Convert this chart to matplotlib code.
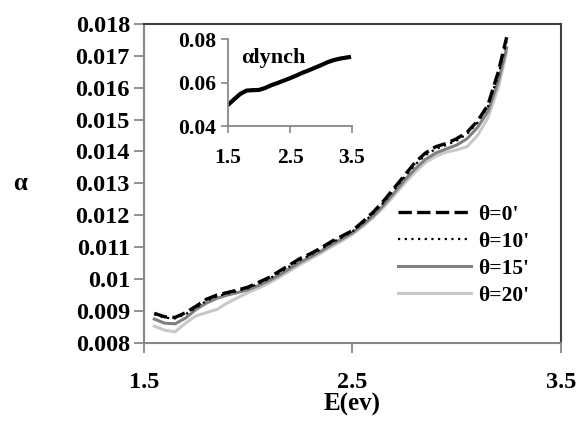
import numpy as np
import matplotlib
matplotlib.use("Agg")
import matplotlib.pyplot as plt

# --- data ---
energy = [1.55, 1.60, 1.65, 1.70, 1.75, 1.80, 1.85, 1.90, 1.95, 2.00,
          2.05, 2.10, 2.15, 2.20, 2.25, 2.30, 2.35, 2.40, 2.45, 2.50,
          2.55, 2.60, 2.65, 2.70, 2.75, 2.80, 2.85, 2.90, 2.95, 3.00,
          3.05, 3.10, 3.15, 3.20, 3.24]

alpha_0 = [0.00893, 0.00882, 0.00880, 0.00895, 0.00915, 0.00937, 0.00950, 0.00958, 0.00966, 0.00975,
           0.00990, 0.01005, 0.01025, 0.01045, 0.01065, 0.01080, 0.01098, 0.01118, 0.01135, 0.01152,
           0.01180, 0.01210, 0.01245, 0.01285, 0.01325, 0.01365, 0.01395, 0.01415, 0.01425, 0.01440,
           0.01460, 0.01495, 0.01545, 0.01650, 0.01758]

alpha_10 = [0.00890, 0.00879, 0.00877, 0.00890, 0.00910, 0.00932, 0.00946, 0.00955, 0.00963, 0.00972,
            0.00986, 0.01001, 0.01020, 0.01040, 0.01060, 0.01076, 0.01094, 0.01114, 0.01131, 0.01149,
            0.01176, 0.01206, 0.01240, 0.01280, 0.01320, 0.01358, 0.01388, 0.01408, 0.01420, 0.01434,
            0.01455, 0.01490, 0.01540, 0.01640, 0.01745]

alpha_15 = [0.00875, 0.00862, 0.00860, 0.00878, 0.00905, 0.00925, 0.00940, 0.00950, 0.00958, 0.00967,
            0.00980, 0.00995, 0.01013, 0.01033, 0.01053, 0.01070, 0.01088, 0.01108, 0.01126, 0.01145,
            0.01170, 0.01198, 0.01232, 0.01270, 0.01310, 0.01345, 0.01375, 0.01395, 0.01408, 0.01420,
            0.01440, 0.01475, 0.01525, 0.01620, 0.01725]

alpha_20 = [0.00853, 0.00840, 0.00835, 0.00862, 0.00885, 0.00895, 0.00905, 0.00925, 0.00942, 0.00958,
            0.00972, 0.00988, 0.01006, 0.01026, 0.01046, 0.01064, 0.01082, 0.01102, 0.01120, 0.01140,
            0.01165, 0.01193, 0.01225, 0.01262, 0.01300, 0.01335, 0.01365, 0.01385, 0.01398, 0.01405,
            0.01415, 0.01450, 0.01505, 0.01600, 0.01712]

lynch_e = [1.50, 1.60, 1.70, 1.80, 1.90, 2.00, 2.10, 2.20, 2.30, 2.40, 2.50,
           2.60, 2.70, 2.80, 2.90, 3.00, 3.10, 3.20, 3.30, 3.45]
lynch_alpha = [0.0497, 0.0523, 0.0548, 0.0563, 0.0565, 0.0566, 0.0575, 0.0588, 0.0598, 0.0609, 0.0620,
               0.0632, 0.0645, 0.0656, 0.0668, 0.0680, 0.0693, 0.0703, 0.0710, 0.0717]

labels = ["θ=0'", "θ=10'", "θ=15'", "θ=20'"]

plt.rcParams['font.family'] = ['Liberation Serif', 'DejaVu Serif']
plt.rcParams['font.weight'] = 'bold'

fig = plt.figure(figsize=(5.8, 4.25), dpi=100)
ax = fig.add_axes([0.248, 0.193, 0.719, 0.751])

ax.plot(energy, alpha_20, color='#c8c8c8', lw=2.2, label=labels[3], zorder=2)
ax.plot(energy, alpha_15, color='#808080', lw=2.2, label=labels[2], zorder=3)
ax.plot(energy, alpha_10, color='black', lw=1.6, ls=(0, (1, 2)), label=labels[1], zorder=4)
ax.plot(energy, alpha_0, color='black', lw=2.4, ls=(0, (4, 1.6)), label=labels[0], zorder=5)

ax.set_xlim(1.5, 3.5)
ax.set_ylim(0.008, 0.018)
ax.set_xticks([1.5, 2.5, 3.5])
ax.set_xticklabels(['1.5', '2.5', '3.5'])
yt = np.arange(0.008, 0.0185, 0.001)
ax.set_yticks(yt)
ax.set_yticklabels(['0.008', '0.009', '0.01', '0.011', '0.012', '0.013',
                    '0.014', '0.015', '0.016', '0.017', '0.018'])
ax.tick_params(axis='both', direction='out', length=7, width=1.3, color='#888888',
               labelsize=17.5)
ax.tick_params(axis='x', pad=14)
ax.tick_params(axis='y', pad=3)
for s in ['left', 'bottom']:
    ax.spines[s].set_color('#888888')
    ax.spines[s].set_linewidth(1.5)
for s in ['top', 'right']:
    ax.spines[s].set_color('#404040')
    ax.spines[s].set_linewidth(1.5)

ax.set_xlabel('E(ev)', fontsize=18, fontweight='bold', labelpad=0)
ax.set_ylabel('α', fontsize=18, fontweight='bold', rotation=0, labelpad=40, va='center')

handles, lbls = ax.get_legend_handles_labels()
order = [3, 2, 1, 0]
ax.legend([handles[i] for i in order], [lbls[i] for i in order],
          loc='upper left', bbox_to_anchor=(0.588, 0.46), frameon=False,
          fontsize=15.5, handlelength=3.4, handletextpad=0.35, labelspacing=0.32,
          borderaxespad=0)

# inset
ins = fig.add_axes([0.393, 0.7035, 0.214, 0.2045])
ins.plot(lynch_e, lynch_alpha, color='black', lw=3)
ins.set_xlim(1.5, 3.5)
ins.set_ylim(0.04, 0.08)
ins.set_xticks([1.5, 2.5, 3.5])
ins.set_xticklabels(['1.5', '2.5', '3.5'])
ins.set_yticks([0.04, 0.06, 0.08])
ins.set_yticklabels(['0.04', '0.06', '0.08'])
ins.tick_params(axis='both', direction='out', length=5, width=1.2, color='#888888',
                labelsize=15.5)
ins.tick_params(axis='x', pad=11)
for s in ['top', 'right']:
    ins.spines[s].set_visible(False)
for s in ['left', 'bottom']:
    ins.spines[s].set_color('#888888')
    ins.spines[s].set_linewidth(1.3)
ins.text(0.11, 0.78, 'αlynch', transform=ins.transAxes, fontsize=16,
         fontweight='bold', va='center', ha='left')

fig.savefig('out.png', dpi=100)
